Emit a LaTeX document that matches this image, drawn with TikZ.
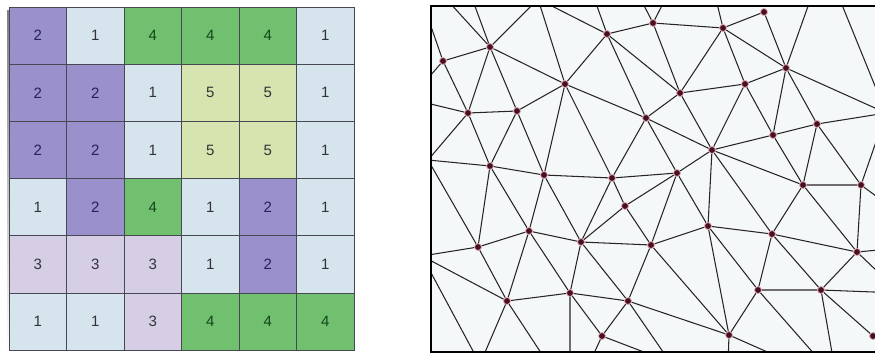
\documentclass[tikz,border=0pt]{standalone}
\usepackage{fontspec}
\setmainfont{Liberation Sans}
\usepackage{xcolor}
\definecolor{valone}{RGB}{214,228,238}
\definecolor{valtwo}{RGB}{153,144,204}
\definecolor{valthree}{RGB}{214,206,229}
\definecolor{valfour}{RGB}{112,192,112}
\definecolor{valfive}{RGB}{214,229,176}
\definecolor{gridline}{RGB}{70,72,82}
\definecolor{numtext}{RGB}{50,50,55}
\definecolor{twotext}{RGB}{35,35,85}
\definecolor{fourtext}{RGB}{20,70,25}
\definecolor{shade}{RGB}{150,150,150}
\definecolor{tinbg}{RGB}{244,248,248}
\definecolor{tinline}{RGB}{40,36,38}
\definecolor{dotred}{RGB}{72,16,30}
\definecolor{halo}{RGB}{226,170,185}

\begin{document}
\begin{tikzpicture}[x=1pt, y=-1pt, font=\fontsize{15}{17}\selectfont,
  cell/.style={draw=gridline, line width=0.8pt, minimum width=57.5pt, minimum height=57.2pt, inner sep=0pt, text=numtext},
  one/.style={cell, fill=valone},
  two/.style={cell, fill=valtwo, text=twotext},
  three/.style={cell, fill=valthree},
  four/.style={cell, fill=valfour, text=fourtext},
  five/.style={cell, fill=valfive},
  vtx/.style={circle, fill=dotred, draw=halo, line width=0.8pt, inner sep=0pt, minimum size=7pt},
  tri/.style={draw=tinline, line width=1.05pt},
  frame/.style={draw=black, line width=2pt}]
  \useasboundingbox (0,0) rectangle (875,354);

  % raster
  \fill[shade] (7,10) rectangle (352,354);
  \node[two]   (r1c1) at (37.75,35.6) {2};  \node[one]   (r1c2) at (95.25,35.6) {1};  \node[four]  (r1c3) at (152.75,35.6) {4};
  \node[four]  (r1c4) at (210.25,35.6) {4}; \node[four]  (r1c5) at (267.75,35.6) {4}; \node[one]   (r1c6) at (325.25,35.6) {1};
  \node[two]   (r2c1) at (37.75,92.8) {2};  \node[two]   (r2c2) at (95.25,92.8) {2};  \node[one]   (r2c3) at (152.75,92.8) {1};
  \node[five]  (r2c4) at (210.25,92.8) {5}; \node[five]  (r2c5) at (267.75,92.8) {5}; \node[one]   (r2c6) at (325.25,92.8) {1};
  \node[two]   (r3c1) at (37.75,150) {2};   \node[two]   (r3c2) at (95.25,150) {2};   \node[one]   (r3c3) at (152.75,150) {1};
  \node[five]  (r3c4) at (210.25,150) {5};  \node[five]  (r3c5) at (267.75,150) {5};  \node[one]   (r3c6) at (325.25,150) {1};
  \node[one]   (r4c1) at (37.75,207.2) {1}; \node[two]   (r4c2) at (95.25,207.2) {2}; \node[four]  (r4c3) at (152.75,207.2) {4};
  \node[one]   (r4c4) at (210.25,207.2) {1};\node[two]   (r4c5) at (267.75,207.2) {2};\node[one]   (r4c6) at (325.25,207.2) {1};
  \node[three] (r5c1) at (37.75,264.4) {3}; \node[three] (r5c2) at (95.25,264.4) {3}; \node[three] (r5c3) at (152.75,264.4) {3};
  \node[one]   (r5c4) at (210.25,264.4) {1};\node[two]   (r5c5) at (267.75,264.4) {2};\node[one]   (r5c6) at (325.25,264.4) {1};
  \node[one]   (r6c1) at (37.75,321.6) {1}; \node[one]   (r6c2) at (95.25,321.6) {1}; \node[three] (r6c3) at (152.75,321.6) {3};
  \node[four]  (r6c4) at (210.25,321.6) {4};\node[four]  (r6c5) at (267.75,321.6) {4};\node[four]  (r6c6) at (325.25,321.6) {4};

  % TIN
  \begin{scope}
  \fill[tinbg] (431,6) rectangle (880,352);
  \clip (431,6) rectangle (880,352);
  \node[vtx] (A) at (443,61) {};  \node[vtx] (B) at (490,47) {};  \node[vtx] (C) at (565,84) {};
  \node[vtx] (D) at (468,113) {}; \node[vtx] (E) at (517,111) {}; \node[vtx] (F) at (490,166) {};
  \node[vtx] (G) at (544,175) {}; \node[vtx] (H) at (607,34) {};  \node[vtx] (I) at (653,23) {};
  \node[vtx] (J) at (723,28) {};  \node[vtx] (K) at (680,93) {};  \node[vtx] (L) at (646,118) {};
  \node[vtx] (M) at (712,150) {}; \node[vtx] (N) at (677,173) {}; \node[vtx] (O) at (612,178) {};
  \node[vtx] (P) at (764,12) {};  \node[vtx] (Q) at (786,68) {};  \node[vtx] (R) at (745,84) {};
  \node[vtx] (S) at (817,124) {}; \node[vtx] (T) at (773,135) {}; \node[vtx] (U) at (529,231) {};
  \node[vtx] (V) at (478,247) {}; \node[vtx] (W) at (507,301) {}; \node[vtx] (X) at (570,293) {};
  \node[vtx] (Y) at (625,206) {}; \node[vtx] (Z) at (581,242) {}; \node[vtx] (a) at (651,245) {};
  \node[vtx] (b) at (708,226) {}; \node[vtx] (c) at (628,301) {}; \node[vtx] (d) at (602,336) {};
  \node[vtx] (e) at (803,185) {}; \node[vtx] (f) at (861,185) {}; \node[vtx] (g) at (772,234) {};
  \node[vtx] (h) at (857,252) {}; \node[vtx] (i) at (758,290) {}; \node[vtx] (j) at (821,290) {};
  \node[vtx] (k) at (729,335) {}; \node[vtx] (l) at (873,336) {};
  % points outside the frame
  \coordinate (xa1) at (419,-8);  \coordinate (xb1) at (438,-10); \coordinate (xb2) at (469,-10);
  \coordinate (xt1) at (538,-1);  \coordinate (xh1) at (593,-5);  \coordinate (xi1) at (636,-10);
  \coordinate (xi2) at (670,-10); \coordinate (xj1) at (715,-5);  \coordinate (xq1) at (812,-5);
  \coordinate (xt2) at (838,-5);  \coordinate (xr1) at (886,113); \coordinate (xr3) at (895,210);
  \coordinate (xr4) at (900,248); \coordinate (xr5) at (900,293); \coordinate (xr6) at (900,365);
  \coordinate (xb3) at (823,364); \coordinate (xb4) at (834,364); \coordinate (xb5) at (728,364);
  \coordinate (xb6) at (790,362); \coordinate (xb7) at (670,362); \coordinate (xb8) at (590,362);
  \coordinate (xb9) at (570,364); \coordinate (xb10) at (547,362); \coordinate (xb11) at (480,364);
  \coordinate (xl1) at (428,160); \coordinate (xl2) at (422,256); \coordinate (xl3) at (410,99);

  \draw[tri] (A) -- (B)  (A) -- (D)  (A) -- (xa1)  (A) -- (xl3);
  \draw[tri] (B) -- (C)  (B) -- (D)  (B) -- (E)  (B) -- (xb1)  (B) -- (xb2)  (B) -- (xt1);
  \draw[tri] (C) -- (E)  (C) -- (G)  (C) -- (H)  (C) -- (L)  (C) -- (O)  (C) -- (xt1);
  \draw[tri] (D) -- (E)  (D) -- (F)  (D) -- (xl1)  (D) -- (xl3);
  \draw[tri] (E) -- (F)  (E) -- (G);
  \draw[tri] (F) -- (G)  (F) -- (U)  (F) -- (V)  (F) -- (xl1);
  \draw[tri] (G) -- (O)  (G) -- (U)  (G) -- (Z);
  \draw[tri] (H) -- (I)  (H) -- (K)  (H) -- (L)  (H) -- (xt1)  (H) -- (xh1);
  \draw[tri] (I) -- (J)  (I) -- (K)  (I) -- (xi1)  (I) -- (xi2);
  \draw[tri] (J) -- (K)  (J) -- (P)  (J) -- (Q)  (J) -- (R)  (J) -- (xj1);
  \draw[tri] (K) -- (L)  (K) -- (M)  (K) -- (R);
  \draw[tri] (L) -- (M)  (L) -- (N)  (L) -- (O);
  \draw[tri] (M) -- (N)  (M) -- (R)  (M) -- (T)  (M) -- (b)  (M) -- (e)  (M) -- (g);
  \draw[tri] (N) -- (O)  (N) -- (Y)  (N) -- (a)  (N) -- (b);
  \draw[tri] (O) -- (Y)  (O) -- (Z);
  \draw[tri] (P) -- (Q);
  \draw[tri] (Q) -- (R)  (Q) -- (S)  (Q) -- (T)  (Q) -- (xq1)  (Q) -- (xr1);
  \draw[tri] (R) -- (T);
  \draw[tri] (S) -- (T)  (S) -- (e)  (S) -- (f)  (S) -- (xr1);
  \draw[tri] (T) -- (e);
  \draw[tri] (U) -- (V)  (U) -- (W)  (U) -- (X)  (U) -- (Z);
  \draw[tri] (V) -- (W)  (V) -- (xl1)  (V) -- (xl2);
  \draw[tri] (W) -- (X)  (W) -- (xl2)  (W) -- (xb10)  (W) -- (xb11);
  \draw[tri] (X) -- (Z)  (X) -- (c)  (X) -- (d)  (X) -- (xb9);
  \draw[tri] (Y) -- (Z)  (Y) -- (a);
  \draw[tri] (Z) -- (a)  (Z) -- (c);
  \draw[tri] (a) -- (b)  (a) -- (c)  (a) -- (k);
  \draw[tri] (b) -- (g)  (b) -- (i)  (b) -- (k);
  \draw[tri] (c) -- (k)  (c) -- (d)  (c) -- (xb7);
  \draw[tri] (d) -- (xb7)  (d) -- (xb8);
  \draw[tri] (e) -- (f)  (e) -- (g)  (e) -- (h);
  \draw[tri] (f) -- (h)  (f) -- (xr1)  (f) -- (xr3);
  \draw[tri] (g) -- (h)  (g) -- (i)  (g) -- (j);
  \draw[tri] (h) -- (j)  (h) -- (xr4)  (h) -- (xr5);
  \draw[tri] (i) -- (j)  (i) -- (k)  (i) -- (xb3);
  \draw[tri] (j) -- (l)  (j) -- (xr5)  (j) -- (xb4);
  \draw[tri] (k) -- (xb5)  (k) -- (xb6);
  \draw[tri] (l) -- (xr5)  (l) -- (xr6);
  \draw[tri] (xt2) -- (xr1)  (xl2) -- (xb11);
  \end{scope}
  \draw[frame] (880,6) -- (431,6) -- (431,352) -- (880,352);
\end{tikzpicture}
\end{document}
